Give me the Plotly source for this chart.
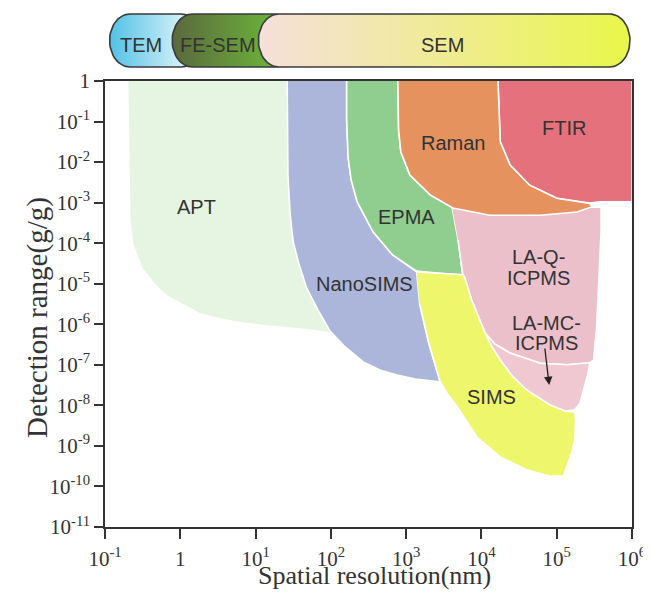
import numpy as np
import plotly.graph_objects as go

# ---------------- axis ticks ----------------
x_tick_exp = [-1, 0, 1, 2, 3, 4, 5, 6]
x_tick_text = ["10<sup>-1</sup>", "1", "10<sup>1</sup>", "10<sup>2</sup>", "10<sup>3</sup>",
               "10<sup>4</sup>", "10<sup>5</sup>", "10<sup>6</sup>"]
y_tick_exp = [0, -1, -2, -3, -4, -5, -6, -7, -8, -9, -10, -11]
y_tick_text = ["1", "10<sup>-1</sup>", "10<sup>-2</sup>", "10<sup>-3</sup>", "10<sup>-4</sup>",
               "10<sup>-5</sup>", "10<sup>-6</sup>", "10<sup>-7</sup>", "10<sup>-8</sup>",
               "10<sup>-9</sup>", "10<sup>-10</sup>", "10<sup>-11</sup>"]

# ---------------- technique fields: log10 spatial resolution (nm), log10 detection (g/g) ----------------
APT_log_res = [-0.69, -0.68, -0.66, -0.62, -0.50, -0.32, -0.18, 0.06, 0.26, 0.53, 0.79, 1.13, 1.42, 1.72, 2.07, 1.99, 1.72, 1.59]
APT_log_det = [0, -1.70, -3.43, -4.04, -4.61, -5.03, -5.28, -5.52, -5.72, -5.85, -5.94, -6.02, -6.07, -6.12, -6.21, -5.40, -2.94, 0]

NanoSIMS_log_res = [1.42, 1.43, 1.46, 1.50, 1.58, 1.68, 1.83, 1.99, 2.19, 2.43, 2.65, 2.88, 3.12, 3.41, 3.45, 3.30, 3.18, 3.14, 2.82, 2.56, 2.35, 2.27, 2.23, 2.21, 2.21]
NanoSIMS_log_det = [0, -2.32, -3.31, -3.97, -4.54, -5.11, -5.65, -6.17, -6.56, -6.93, -7.13, -7.25, -7.35, -7.42, -7.42, -6.46, -5.50, -4.71, -4.29, -3.72, -2.98, -2.44, -1.90, -0.96, 0]

EPMA_log_res = [2.21, 2.21, 2.23, 2.27, 2.35, 2.56, 2.82, 3.14, 3.45, 3.75, 3.69, 3.61, 3.32, 3.05, 2.93, 2.90, 2.89]
EPMA_log_det = [0, -0.96, -1.90, -2.44, -2.98, -3.72, -4.29, -4.69, -4.74, -4.78, -3.92, -3.11, -2.81, -2.32, -1.75, -1.21, 0]

Raman_log_res = [2.89, 2.90, 2.93, 3.05, 3.32, 3.62, 4.11, 4.78, 5.27, 5.47, 5.44, 5.00, 4.64, 4.38, 4.25, 4.22]
Raman_log_det = [0, -1.21, -1.75, -2.32, -2.81, -3.13, -3.31, -3.31, -3.23, -3.10, -3.02, -2.89, -2.57, -2.07, -1.50, 0]

FTIR_log_res = [4.22, 4.25, 4.38, 4.64, 5.00, 5.44, 5.57, 6.0, 6.0]
FTIR_log_det = [0, -1.50, -2.07, -2.57, -2.89, -3.01, -2.98, -2.98, 0]

LAQ_log_res = [3.61, 5.59, 5.59, 5.57, 5.55, 5.53, 5.49, 5.44, 5.14, 4.78, 4.38, 4.18, 4.05, 3.87, 3.78, 3.75, 3.69]
LAQ_log_det = [-3.11, -3.11, -3.68, -4.59, -5.40, -6.07, -6.88, -6.95, -7.00, -6.96, -6.71, -6.49, -6.22, -5.40, -4.86, -4.74, -3.92]

LAMC_log_res = [4.05, 4.18, 4.38, 4.78, 5.14, 5.44, 5.41, 5.37, 5.31, 5.24, 5.11, 4.91, 4.60, 4.41, 4.25, 4.14]
LAMC_log_det = [-6.22, -6.49, -6.71, -6.96, -7.00, -6.95, -7.25, -7.55, -7.94, -8.11, -8.14, -7.99, -7.62, -7.28, -6.88, -6.56]

SIMS_log_res = [3.14, 3.45, 3.75, 3.78, 3.87, 4.05, 4.14, 4.25, 4.41, 4.60, 4.91, 5.11, 5.24, 5.25, 5.24, 5.20, 5.15, 5.09, 4.91, 4.60, 4.25, 3.94, 3.68, 3.53, 3.45, 3.30, 3.18]
SIMS_log_det = [-4.71, -4.74, -4.78, -4.86, -5.40, -6.22, -6.56, -6.88, -7.28, -7.62, -7.99, -8.14, -8.16, -8.36, -8.85, -9.15, -9.40, -9.74, -9.75, -9.59, -9.27, -8.78, -8.04, -7.67, -7.40, -6.46, -5.50]

# ---------------- microscope resolution bars (nm) ----------------
bar_names = ["TEM", "FE-SEM", "SEM"]
bar_min_nm = [0.115, 0.78, 10.9]
bar_max_nm = [1.9, 33.0, 9.4e5]

# ---------------- styles ----------------
fields = [
    ("APT", APT_log_res, APT_log_det, "#e5f5e2"),
    ("NanoSIMS", NanoSIMS_log_res, NanoSIMS_log_det, "#acb6da"),
    ("EPMA", EPMA_log_res, EPMA_log_det, "#8fce8f"),
    ("LA-Q-ICPMS", LAQ_log_res, LAQ_log_det, "#ecc0ca"),
    ("LA-MC-ICPMS", LAMC_log_res, LAMC_log_det, "#efc8d1"),
    ("SIMS", SIMS_log_res, SIMS_log_det, "#eef66c"),
    ("FTIR", FTIR_log_res, FTIR_log_det, "#e5717c"),
    ("Raman", Raman_log_res, Raman_log_det, "#e6925f"),
]
bar_grad = [["#52c2e6", "#f6fbfd"], ["#5b683d", "#6ec33a"], ["#f5e0db", "#e9f74a"]]

fig = go.Figure()
for name, lr, ld, col in fields:
    fig.add_trace(go.Scatter(
        x=10 ** np.array(lr), y=10 ** np.array(ld), mode="lines", fill="toself",
        fillcolor=col, line=dict(color="white", width=1.6 if name != "APT" else 0),
        name=name, hoverinfo="skip"))

# capsule bars on the top axis pair
rx = 0.27
for i, nm in enumerate(bar_names):
    lo, hi = np.log10(bar_min_nm[i]), np.log10(bar_max_nm[i])
    t1 = np.linspace(np.pi / 2, 3 * np.pi / 2, 30)
    t2 = np.linspace(-np.pi / 2, np.pi / 2, 30)
    xs = np.concatenate([lo + rx + rx * np.cos(t1), hi - rx + rx * np.cos(t2)])
    ys = np.concatenate([0.5 + 0.5 * np.sin(t1), 0.5 + 0.5 * np.sin(t2)])
    xs = np.append(xs, xs[0]); ys = np.append(ys, ys[0])
    fig.add_trace(go.Scatter(
        x=10 ** xs, y=ys, xaxis="x2", yaxis="y2", mode="lines", fill="toself",
        fillgradient=dict(type="horizontal", colorscale=[[0, bar_grad[i][0]], [1, bar_grad[i][1]]]),
        line=dict(color="#3a3a3a", width=1.6), hoverinfo="skip", name=nm))

lab_font = dict(family="Liberation Sans, Arial", size=20, color="#333333")
labels = [("APT", 0.21, -3.11), ("NanoSIMS", 2.45, -5.01), ("EPMA", 3.01, -3.35),
          ("Raman", 3.62, -1.53), ("FTIR", 5.10, -1.16), ("LA-Q-", 4.76, -4.34),
          ("ICPMS", 4.76, -4.86), ("LA-MC-", 4.87, -5.97), ("ICPMS", 4.87, -6.46),
          ("SIMS", 4.14, -7.79)]
ann = [dict(text=t, x=x, y=y, xref="x", yref="y", showarrow=False, font=lab_font)
       for t, x, y in labels]
ann.append(dict(text="", x=4.90, y=-7.50, ax=4.84, ay=-6.56, xref="x", yref="y",
                axref="x", ayref="y", showarrow=True, arrowhead=2, arrowsize=1.3,
                arrowwidth=1.3, arrowcolor="#222222"))
bar_text_x = [-0.52, 0.50, 3.48]
for i, nm in enumerate(bar_names):
    ann.append(dict(text=nm, x=bar_text_x[i], y=0.42, xref="x2", yref="y2",
                    showarrow=False, font=lab_font))

serif = "Liberation Serif, Times New Roman, serif"
# axis titles
ann.append(dict(text="Spatial resolution(nm)", xref="paper", yref="paper", x=0.512, y=0,
                yshift=-48, xanchor="center", yanchor="middle", showarrow=False,
                font=dict(family=serif, size=26, color="#333333")))
ann.append(dict(text="Detection range(g/g)", xref="paper", yref="paper", x=0, y=0.406,
                xshift=-67, xanchor="center", yanchor="middle", textangle=-90,
                showarrow=False, font=dict(family=serif, size=29, color="#333333")))

axis_common = dict(showline=True, linecolor="#333333", linewidth=1.5, mirror=True,
                   ticks="outside", tickcolor="#333333", tickwidth=1.5, showgrid=False,
                   zeroline=False, automargin=False,
                   tickfont=dict(family=serif, size=21, color="#333333"))

fig.update_layout(
    width=635, height=585, margin=dict(l=97, r=11, t=4, b=66),
    paper_bgcolor="white", plot_bgcolor="white", showlegend=False,
    xaxis=dict(type="log", range=[-1, 6], domain=[0, 1], anchor="y",
               tickvals=[10.0 ** e for e in x_tick_exp], ticktext=x_tick_text, ticklen=10,
               ticklabelstandoff=2, ticklabeloverflow="allow", **axis_common),
    yaxis=dict(type="log", range=[-11, 0], domain=[0, 0.866], anchor="x",
               tickvals=[10.0 ** e for e in y_tick_exp], ticktext=y_tick_text, ticklen=9,
               **axis_common),
    xaxis2=dict(type="log", range=[-1, 6], domain=[0, 1], anchor="y2", visible=False),
    yaxis2=dict(range=[-0.0377, 1.0377], domain=[0.8893, 1.0], anchor="x2", visible=False),
    annotations=ann,
)

fig.write_html("out.html")
